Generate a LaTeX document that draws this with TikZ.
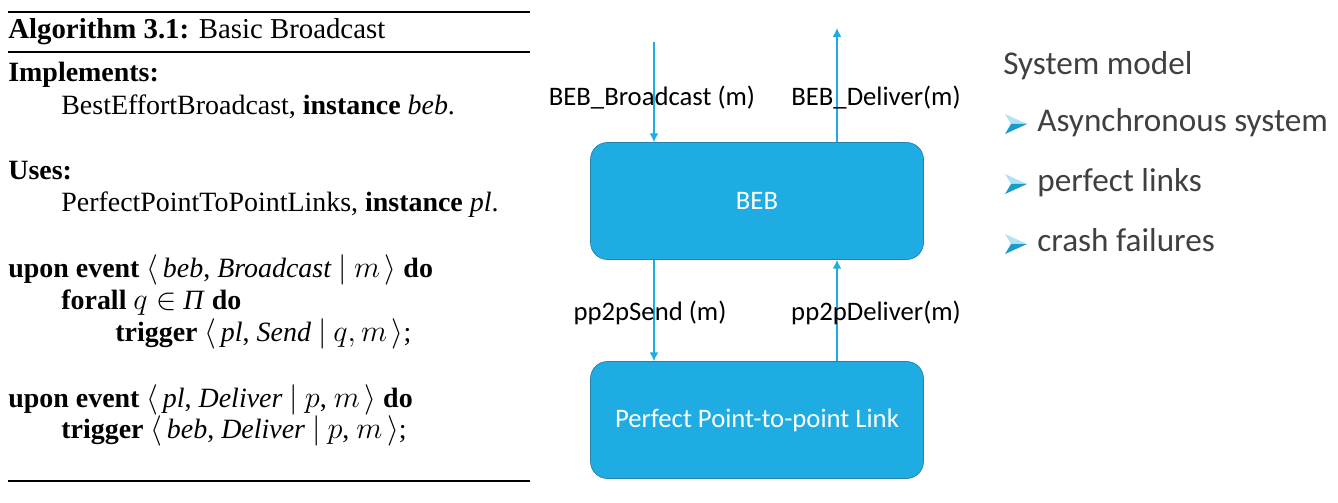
\documentclass[tikz,border=0pt]{standalone}
\usepackage{fontspec}
\setmainfont{Liberation Serif}
\newfontfamily\calibri{Carlito}
\usepackage{tikz}
\usetikzlibrary{arrows.meta}
\definecolor{bebblue}{RGB}{30,172,226}
\definecolor{bebedge}{RGB}{38,128,170}
\definecolor{darktext}{RGB}{64,64,64}
\newcommand{\tikzBulletNode}[2]{
  \coordinate (#1) at (#2);
  \fill[bebblue!35] (#1) ++(-11,-10) -- ++(22,10) -- ++(-16,0) -- cycle;
  \fill[bebblue!90!black] (#1) ++(-5,0) -- ++(16,0) -- ++(-22,10) -- cycle;
}

\begin{document}
\begin{tikzpicture}[x=0.02cm,y=-0.02cm,
  algtext/.style={anchor=base west,inner sep=0pt,font=\fontsize{15.9}{19}\selectfont},
  flow/.style={draw=bebblue,line width=0.75pt,-{Latex[length=5pt,width=5pt]}},
  layer/.style={draw=bebedge,fill=bebblue,rounded corners=0.34cm,minimum width=6.66cm,minimum height=2.34cm,text=white,font=\calibri\fontsize{15.2}{18}\selectfont},
  msg/.style={font=\calibri\fontsize{15.2}{18}\selectfont},
  model/.style={anchor=base west,inner sep=0pt,text=darktext,font=\calibri\fontsize{18.9}{22}\selectfont}]

  \useasboundingbox (0,0) rectangle (1338,503);

  % algorithm
  \begin{scope}
  \draw[line width=1.2pt] (8,12) -- (530,12);
  \node[algtext,font=\fontsize{16.4}{19}\selectfont] (title) at (8,39) {\textbf{Algorithm 3.1:} Basic Broadcast};
  \draw[line width=0.6pt] (8,52) -- (530,52);

  \node[algtext] (impl) at (8,82) {\textbf{Implements:}};
  \node[algtext] (implbeb) at (61,115) {BestEffortBroadcast, \textbf{instance} \textit{beb}.};
  \node[algtext] (uses) at (8,180) {\textbf{Uses:}};
  \node[algtext] (usespl) at (61,212) {PerfectPointToPointLinks, \textbf{instance} \textit{pl}.};

  \node[algtext] (upon1) at (8,277) {\textbf{upon event} $\langle$\,\textit{beb}, \textit{Broadcast} $|$ $m$\,$\rangle$ \textbf{do}};
  \node[algtext] (forall) at (61,309) {\textbf{forall} $q\in$ \textit{Π} \textbf{do}};
  \node[algtext] (trig1) at (115,341) {\textbf{trigger} $\langle$\,\textit{pl}, \textit{Send} $|$ $q,m$\,$\rangle$;};

  \node[algtext] (upon2) at (8,407) {\textbf{upon event} $\langle$\,\textit{pl}, \textit{Deliver} $|$ $p$, $m$\,$\rangle$ \textbf{do}};
  \node[algtext] (trig2) at (61,438) {\textbf{trigger} $\langle$\,\textit{beb}, \textit{Deliver} $|$ $p$, $m$\,$\rangle$;};
  \draw[line width=0.6pt] (8,481) -- (530,481);
  \end{scope}

  % layers
  \begin{scope}
  \node[layer] (beb) at (757,201) {BEB};
  \node[layer] (ppl) at (757,420) {Perfect Point-to-point Link};

  \coordinate (bebin) at (654,42);
  \coordinate (bebout) at (837,28);
  \draw[flow] (bebin) -- (bebin |- beb.north);
  \draw[flow] (bebout |- beb.north) -- (bebout);
  \draw[flow] (bebin |- beb.south) -- (bebin |- ppl.north);
  \draw[flow] (bebout |- ppl.north) -- (bebout |- beb.south);

  \node[msg] (bcast) at (652,98) {BEB\_Broadcast (m)};
  \node[msg] (dlv) at (876,98) {BEB\_Deliver(m)};
  \node[msg] (send) at (650,313) {pp2pSend (m)};
  \node[msg] (pdlv) at (876,313) {pp2pDeliver(m)};
  \end{scope}

  % system model
  \begin{scope}
  \node[model] (sysmodel) at (1003,75) {System model};
  \tikzBulletNode{b1}{1016,124}
  \node[model] (async) at (1037,132) {Asynchronous system};
  \tikzBulletNode{b2}{1016,184}
  \node[model] (links) at (1037,192) {perfect links};
  \tikzBulletNode{b3}{1016,244}
  \node[model] (crash) at (1037,252) {crash failures};
  \end{scope}

\end{tikzpicture}
\end{document}
